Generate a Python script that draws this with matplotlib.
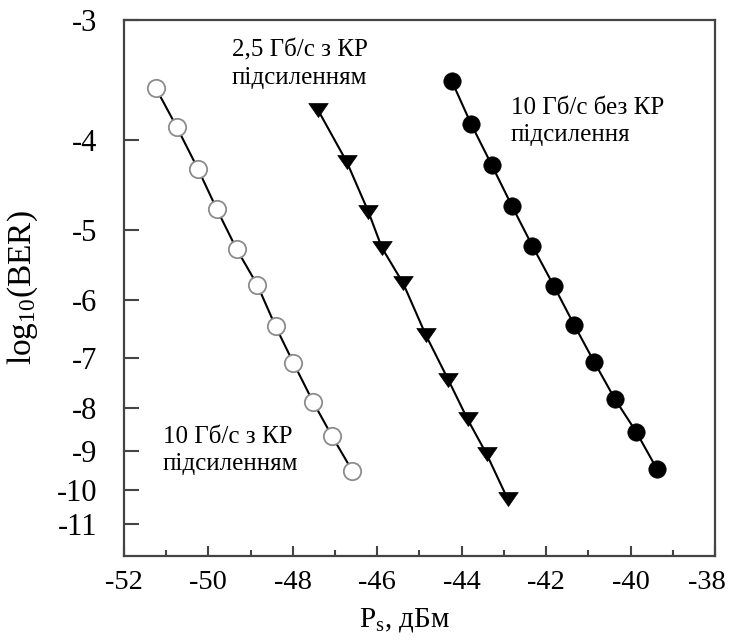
import math
import numpy as np
import matplotlib
matplotlib.use("Agg")
import matplotlib.pyplot as plt
from matplotlib.path import Path
from matplotlib.ticker import FixedLocator, NullFormatter
from matplotlib.transforms import ScaledTranslation

# Received power, dBm, and log10(BER) for each measurement series
ps_10g_raman = [-51.25, -50.75, -50.25, -49.80, -49.33, -48.84, -48.41, -47.99, -47.52, -47.07, -46.59]
ber_10g_raman = [-3.52, -3.87, -4.29, -4.75, -5.26, -5.77, -6.43, -7.08, -7.87, -8.64, -9.50]

ps_25g_raman = [-47.41, -46.72, -46.21, -45.89, -45.39, -44.85, -44.32, -43.86, -43.41, -42.91]
ber_25g_raman = [-3.71, -4.22, -4.78, -5.24, -5.74, -6.58, -7.41, -8.25, -9.07, -10.27]

ps_10g_plain = [-44.24, -43.78, -43.29, -42.81, -42.33, -41.82, -41.34, -40.86, -40.37, -39.87, -39.38]
ber_10g_plain = [-3.46, -3.84, -4.25, -4.71, -5.21, -5.78, -6.40, -7.07, -7.81, -8.53, -9.44]

x_major = [-52, -50, -48, -46, -44, -42, -40, -38]
x_minor = [-51, -49, -47, -45, -43, -41, -39]
y_ticks = [-3, -4, -5, -6, -7, -8, -9, -10, -11]

label_25g_raman = "2,5 Гб/с з КР\nпідсиленням"
label_10g_plain = "10 Гб/с без КР\nпідсилення"
label_10g_raman = "10 Гб/с з КР\nпідсиленням"

plt.rcParams["font.family"] = ["Liberation Serif", "DejaVu Serif"]
plt.rcParams["mathtext.fontset"] = "custom"
plt.rcParams["mathtext.rm"] = "Liberation Serif"

# BER axis: linear in -log10(Q), with BER = 0.5*erfc(Q/sqrt(2))
_erfc = np.vectorize(math.erfc, otypes=[float])
_q = np.linspace(0.05, 37.0, 40000)
_lg = np.log10(0.5 * _erfc(_q / math.sqrt(2.0)))


def ber_to_axis(v):
    v = np.asarray(v, dtype=float)
    return -np.interp(v, _lg[::-1], np.log10(_q)[::-1])


def axis_to_ber(u):
    u = np.asarray(u, dtype=float)
    q = np.clip(10.0 ** (-u), 0.05, 37.0)
    return np.log10(0.5 * _erfc(q / math.sqrt(2.0)))


W, H = 729, 640
fig = plt.figure(figsize=(W / 100, H / 100), dpi=100)
ax = fig.add_axes([124 / W, 1 - 556 / H, 591 / W, 536 / H])
ax.set_yscale("function", functions=(ber_to_axis, axis_to_ber))

tri = Path([(-1, 0.72), (1, 0.72), (0, -0.72), (-1, 0.72)],
           [Path.MOVETO, Path.LINETO, Path.LINETO, Path.CLOSEPOLY])

line_kw = dict(color="black", lw=1.5, zorder=2)
ax.plot(ps_10g_raman, ber_10g_raman, marker="o", ms=12.5, mfc="white",
        mec="#8c8c8c", mew=1.3, **line_kw)
ax.plot(ps_25g_raman, ber_25g_raman, marker=tri, ms=14, mfc="black",
        mec="black", mew=0.5, **line_kw)
ax.plot(ps_10g_plain, ber_10g_plain, marker="o", ms=12.5, mfc="black",
        mec="black", mew=0.5, **line_kw)

ax.set_xlim(-52, -38)
ax.set_ylim(-12.036, -3)

spine_c = "#444444"
for s in ax.spines.values():
    s.set_color(spine_c)
    s.set_linewidth(1.6)

ax.xaxis.set_major_locator(FixedLocator(x_major))
ax.xaxis.set_minor_locator(FixedLocator(x_minor))
ax.xaxis.set_minor_formatter(NullFormatter())
ax.set_xticklabels([str(v) for v in x_major])
ax.yaxis.set_major_locator(FixedLocator(y_ticks))
ax.yaxis.set_minor_locator(FixedLocator([]))
ax.set_yticklabels([str(v) for v in y_ticks])

ax.tick_params(axis="x", which="major", direction="in", length=7.5, width=1.5,
               color=spine_c, labelsize=20.5, pad=10, top=False)
ax.tick_params(axis="x", which="minor", direction="in", length=4.5, width=1.5,
               color=spine_c, top=False)
ax.tick_params(axis="y", which="major", direction="in", length=10.5, width=1.5,
               color=spine_c, labelsize=22, pad=19, right=False)

# keep the rightmost tick label inside the canvas
last = ax.get_xticklabels()[-1]
last.set_transform(last.get_transform() + ScaledTranslation(-6 / 72, 0, fig.dpi_scale_trans))

ax.set_xlabel("P$_\\mathregular{s}$, дБм", fontsize=21)
ax.xaxis.set_label_coords((405 - 124) / 591, (556 - 606) / 536)
ax.set_ylabel("$\\mathregular{log_{10}(BER)}$", fontsize=24, labelpad=12)

text_kw = dict(transform=ax.transAxes, fontsize=18, ha="left", va="baseline",
               linespacing=1.3)
ax.text((232 - 124) / 591, (556 - 84) / 536, label_25g_raman, **text_kw)
ax.text((511 - 124) / 591, (556 - 141) / 536, label_10g_plain, **text_kw)
ax.text((163 - 124) / 591, (556 - 470) / 536, label_10g_raman, **text_kw)

fig.savefig("out.png", dpi=100)
